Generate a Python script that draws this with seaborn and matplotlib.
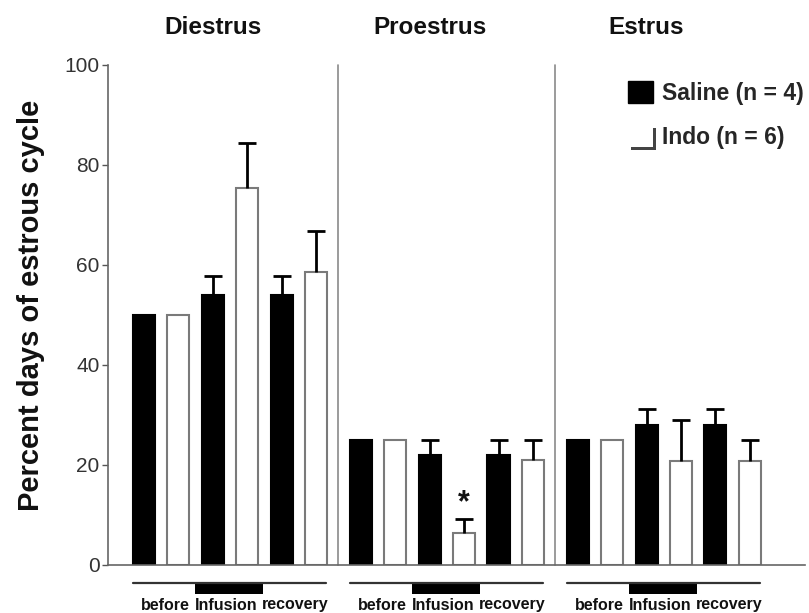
import numpy as np
import pandas as pd
import matplotlib
matplotlib.use("Agg")
import matplotlib.pyplot as plt
import matplotlib.patheffects as pe
import seaborn as sns
from matplotlib.patches import Patch, Rectangle

# ---- data ----
phases = ["Diestrus", "Proestrus", "Estrus"]
periods = ["before", "Infusion", "recovery"]
treatments = ["Saline (n = 4)", "Indo (n = 6)"]

saline_mean = [50, 54, 54, 25, 22, 22, 25, 28.1, 28.1]
saline_sem = [0, 3.7, 3.7, 0, 3.0, 3.0, 0, 3.2, 3.2]
indo_mean = [50, 75.4, 58.6, 25, 6.4, 21, 25, 20.9, 20.9]
indo_sem = [0, 9.0, 8.2, 0, 2.8, 4.0, 0, 8.2, 4.1]

# ---- layout constants ----
GROUP_STEP = 6.3
LABEL_OFFSETS = [0.62, 2.4, 4.4]

rows = []
for pi, ph in enumerate(phases):
    for qi, per in enumerate(periods):
        k = pi * 3 + qi
        for ti, (tr, m, s) in enumerate(zip(treatments,
                                            [saline_mean[k], indo_mean[k]],
                                            [saline_sem[k], indo_sem[k]])):
            rows.append(dict(phase=ph, period=per, treatment=tr, value=m, sem=s,
                             pos=pi * GROUP_STEP + qi * 2 + ti))
df = pd.DataFrame(rows)

sns.set_theme(style="white")
plt.rcParams["font.family"] = ["Liberation Sans", "DejaVu Sans"]

fig = plt.figure(figsize=(8.09, 6.13), dpi=100)
ax = fig.add_axes([108 / 809, 1 - 565 / 613, (805 - 108) / 809, 500 / 613])

sns.barplot(data=df, x="pos", y="value", hue="treatment", hue_order=treatments,
            native_scale=True, dodge=False, width=0.64, errorbar=None,
            palette={treatments[0]: "black", treatments[1]: "white"},
            linewidth=1.5, legend=False, ax=ax)
for p in ax.patches:
    fc = p.get_facecolor()
    if fc[0] > 0.5:
        p.set_edgecolor("#7a7a7a")
    else:
        p.set_edgecolor("black")
    p.set_linewidth(1.5)

e = df[df["sem"] > 0]
_, caps, _ = ax.errorbar(e["pos"], e["value"], yerr=[np.zeros(len(e)), e["sem"]],
                         fmt="none", ecolor="black", elinewidth=2, capsize=6.5,
                         capthick=2, zorder=1)
caps[0].set_visible(False)  # only the upper caps are drawn

ax.set_xlim(-1.04, 19.2)
ax.set_ylim(0, 100)
ax.set_yticks([0, 20, 40, 60, 80, 100])
ax.set_xticks([])
ax.set_xlabel("")
ax.set_ylabel("Percent days of estrous cycle", fontsize=21, fontweight="bold",
              color="#111")
ax.yaxis.set_label_coords(-0.09, 0.52)
ax.tick_params(axis="y", direction="out", length=4.5, width=1, color="#555",
               labelsize=15, labelcolor="#333", pad=1.5, left=True)
for side in ["top", "right"]:
    ax.spines[side].set_visible(False)
for side in ["left", "bottom"]:
    ax.spines[side].set_color("#666")
    ax.spines[side].set_linewidth(1.2)

# dividers between phases
for pi in range(1, len(phases)):
    xd = pi * GROUP_STEP - (GROUP_STEP - 5) / 2
    ax.plot([xd, xd], [0, 100], color="#8a8a8a", lw=1.2, clip_on=False)

trans = ax.get_xaxis_transform()
for pi, ph in enumerate(phases):
    x0 = pi * GROUP_STEP
    ax.text(x0 + 2.0, 1.075, ph, transform=trans, ha="center", va="center",
            fontsize=17.5, fontweight="bold", color="#111")
    ax.plot([x0 - 0.32, x0 + 5.3], [-0.036, -0.036], transform=trans,
            color="#333", lw=1.6, clip_on=False)
    ax.add_patch(Rectangle((x0 + 1.48, -0.058), 1.98, 0.022, transform=trans,
                           facecolor="black", edgecolor="none", clip_on=False))
    for qi, per in enumerate(periods):
        ax.text(x0 + LABEL_OFFSETS[qi], -0.08, per, transform=trans, ha="center",
                va="center", fontsize=11.5, fontweight="bold", color="#111")

# significance marker
ax.text(1 * GROUP_STEP + 3, 12.3, "*", ha="center", va="center", fontsize=22,
        fontweight="bold", color="#111")

handles = [Patch(facecolor="black", edgecolor="black"),
           Patch(facecolor="white", edgecolor="none",
                 path_effects=[pe.SimplePatchShadow(offset=(1.8, -1.8),
                                                    shadow_rgbFace="#444", alpha=1),
                               pe.Normal()])]
ax.legend(handles, treatments, loc="upper left",
          bbox_to_anchor=(628 / 809, 1 - 81 / 613), bbox_transform=fig.transFigure,
          frameon=False, prop=dict(weight="bold", size=16.5), handlelength=1.1,
          handleheight=1.1, handletextpad=0.38, labelspacing=0.9, borderpad=0,
          borderaxespad=0)

fig.savefig("out.png", dpi=100)
